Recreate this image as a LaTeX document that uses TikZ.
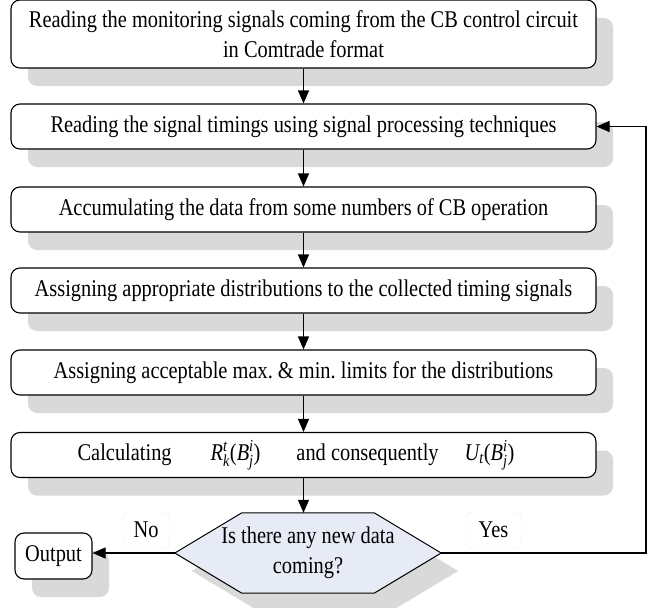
\documentclass[tikz,border=0pt]{standalone}
\usepackage{amsmath}
\usepackage{fontspec}
\setmainfont{Liberation Serif}[FakeStretch=0.85]
\usetikzlibrary{arrows.meta,shadows,backgrounds}
\definecolor{shadowgray}{HTML}{D9D9D9}
\definecolor{decblue}{HTML}{E6EBF5}

\begin{document}
\begin{tikzpicture}[x=1pt,y=-1pt,
  every node/.style={font=\fontsize{24}{30}\selectfont,inner sep=0pt},
  boxshadow/.style={drop shadow={shadow xshift=17pt,shadow yshift=-18pt,fill=shadowgray,opacity=1}},
  stepbox/.style={draw,line width=1.1pt,rounded corners=9pt,fill=white,
    minimum width=585pt,minimum height=45pt,align=center,boxshadow},
  decbox/.style={minimum width=266pt,minimum height=80pt,align=center},
  hexagon/.style={draw,line width=1pt,fill=decblue,boxshadow},
  lbl/.style={draw=black!7,rounded corners=6pt,minimum height=36pt},
  flow/.style={line width=1.1pt,-{Triangle[length=13pt,width=11pt]}}]
  \useasboundingbox (0,0) rectangle (662,608);

  % the process steps
  \node[stepbox,minimum height=68pt] (read) at (303.5,34)
    {Reading the monitoring signals coming from the CB control circuit\\in Comtrade format};
  \node[stepbox] (timing) at (303.5,126.5) {Reading the signal timings using signal processing techniques};
  \node[stepbox] (accum) at (303.5,209.5) {Accumulating the data from some numbers of CB operation};
  \node[stepbox] (dist) at (303.5,290.5) {Assigning appropriate distributions to the collected timing signals};
  \node[stepbox] (limits) at (303.5,372.5) {Assigning acceptable max.\ \& min.\ limits for the distributions};
  \node[stepbox] (calc) at (303.5,455)
    {Calculating\hspace{39pt}$\textit{R}^{\textit{t}}_{\textit{k}}\textup{(}\textit{B}^{\textit{i}}_{\textit{j}}\textup{)}$\hspace{36pt}and consequently\hspace{26pt}$\textit{U}_{\textit{t}}\textup{(}\textit{B}^{\textit{i}}_{\textit{j}}\textup{)}$\hspace*{15pt}};

  % decision and output
  \node[decbox] (newdata) at (308,553) {Is there any new data\\coming?};
  \begin{pgfonlayer}{background}
    \path[hexagon] (newdata.west) -- ([xshift=67pt]newdata.north west)
      -- ([xshift=-67pt]newdata.north east) -- (newdata.east)
      -- ([xshift=-67pt]newdata.south east) -- ([xshift=67pt]newdata.south west) -- cycle;
  \end{pgfonlayer}
  \node[stepbox,minimum width=77pt,minimum height=46pt] (output) at (53.5,556) {Output};
  \node[lbl,minimum width=46pt] (no) at (146,530) {No};
  \node[lbl,minimum width=55pt] (yes) at (493.5,530) {Yes};
  \coordinate (loop) at (646,553);

  \draw[flow] (read) -- (timing);
  \draw[flow] (timing) -- (accum);
  \draw[flow] (accum) -- (dist);
  \draw[flow] (dist) -- (limits);
  \draw[flow] (limits) -- (calc);
  \draw[flow] (calc.south) -- (calc.south |- newdata.north);
  \draw[flow] (newdata.west) -- (newdata.west -| output.east);
  \draw[flow] (newdata.east) -- (loop) |- (timing.east);
\end{tikzpicture}
\end{document}
